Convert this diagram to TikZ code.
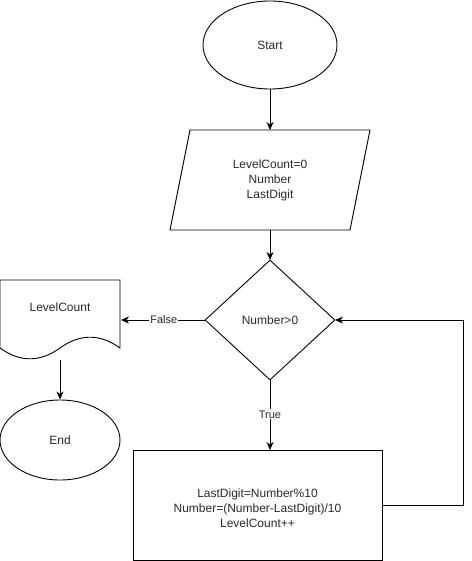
\documentclass[tikz,border=0pt]{standalone}
\usepackage{fontspec}
\setmainfont{Liberation Sans}
\usetikzlibrary{shapes.geometric,arrows.meta}
\definecolor{txt}{RGB}{40,40,40}
\begin{document}
\begin{tikzpicture}[x=1pt,y=-1pt,
  every node/.style={font=\fontsize{12}{15}\selectfont, text=txt, align=center},
  shape line/.style={draw=black, line width=0.9pt},
  flow/.style={draw=black, line width=0.9pt, -{Stealth[length=8pt,width=7pt,inset=2.5pt]}},
  edgelabel/.style={fill=white, inner sep=1pt, font=\fontsize{11}{13}\selectfont},
]
\useasboundingbox (0,0) rectangle (471,561);

% terminators
\node[shape line, ellipse, minimum width=134pt, minimum height=88pt, inner sep=0pt] (start) at (270,45) {Start};
\node[shape line, ellipse, minimum width=120pt, minimum height=80pt, inner sep=0pt] (end) at (60,440) {End};

% input parallelogram
\draw[shape line] (190,130) -- (370,130) -- (350,230) -- (170,230) -- cycle;
\node (input) at (270,180) {LevelCount=0\\Number\\LastDigit};
\coordinate (inputtop) at (270,130);
\coordinate (inputbot) at (270,230);

% decision
\node[shape line, diamond, minimum width=130pt, minimum height=120pt, inner sep=0pt, aspect=1.083] (test) at (270,320) {Number>0};
\coordinate (testtop) at (270,260);
\coordinate (testbot) at (270,380);
\coordinate (testleft) at (205,320);
\coordinate (testright) at (335,320);

% output document
\draw[shape line] (0,280) -- (120,280) -- (120,348)
  .. controls (100,333.6) and (80,333.6) .. (60,348)
  .. controls (40,362.4) and (20,362.4) .. (0,348) -- cycle;
\node (doc) at (60,307) {LevelCount};
\coordinate (docright) at (121,320);
\coordinate (docbot) at (60,360);

% loop body
\node[shape line, rectangle, minimum width=249pt, minimum height=110pt, inner sep=0pt] (body) at (257.5,505)
  {\\LastDigit=Number\%10\\Number=(Number-LastDigit)/10\\LevelCount++};
\coordinate (bodytop) at (270,450);
\coordinate (loopcorner1) at (463,505);
\coordinate (loopcorner2) at (463,320);

% connectors
\draw[flow] (start.south) -- (inputtop);
\draw[flow] (inputbot) -- (testtop);
\draw[flow] (testleft) -- node[edgelabel, pos=0.49] {False} (docright);
\draw[flow] (docbot) -- (end.north);
\draw[flow] (testbot) -- node[edgelabel, pos=0.49] {True} (bodytop);
\draw[flow] (body.east) -- (loopcorner1) -- (loopcorner2) -- (testright);
\end{tikzpicture}
\end{document}
